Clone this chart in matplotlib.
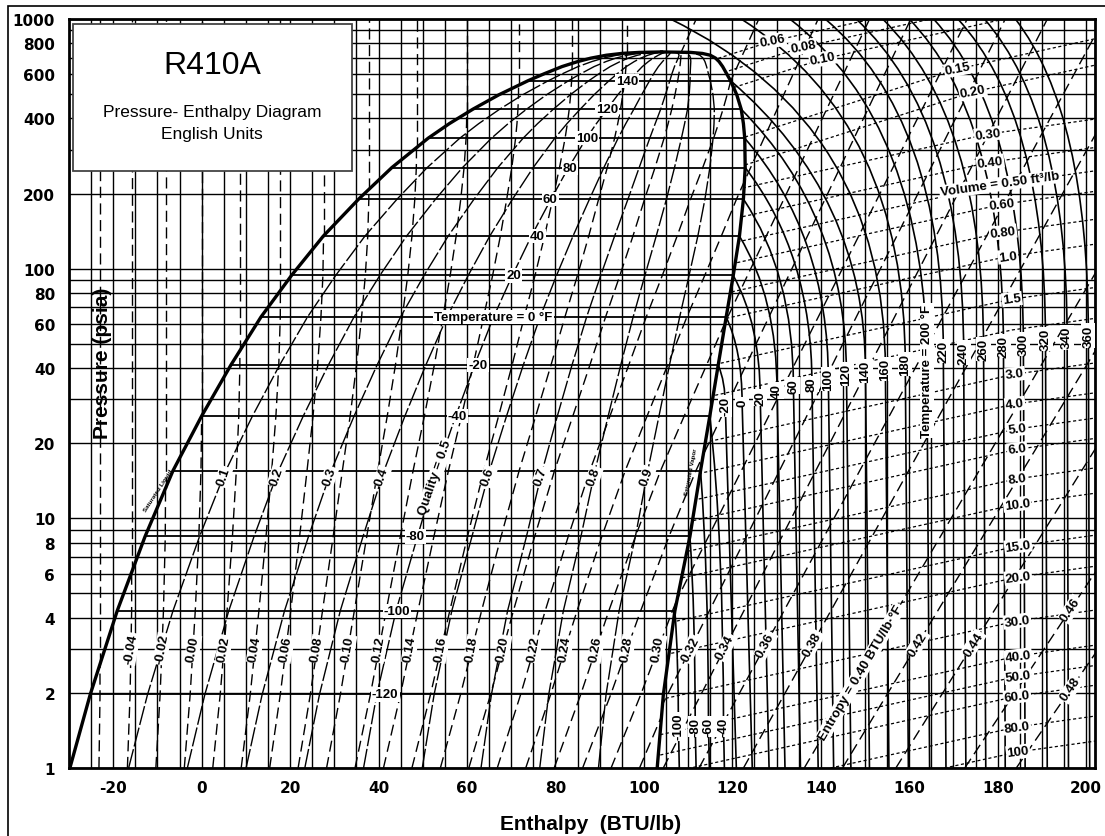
import numpy as np
import matplotlib.pyplot as plt
from matplotlib.path import Path
from matplotlib.patches import PathPatch, Rectangle
from matplotlib.ticker import FixedLocator, FixedFormatter, NullLocator

# saturation table: temperature (F), pressure (psia), sat. liquid / sat. vapour enthalpy (BTU/lb)
sat_t = [-138, -120, -100, -80, -60, -40, -20, 0, 20, 40, 60, 80, 100, 110, 120, 130,
         140, 145, 150, 153, 155, 156.5, 157.5, 158, 158.3]
sat_p = [1.0, 1.97, 4.26, 8.46, 15.5, 25.7, 41.1, 64.0, 93.9, 135, 190, 254, 333, 381, 435, 497,
         566, 604, 645, 675, 697, 716, 728, 735, 738]
sat_hf = [-29.8, -25.2, -19.1, -12.8, -6.5, 0.0, 6.6, 13.4, 20.3, 27.5, 35.5, 43.0, 51.2, 56.0, 61.3, 67.2,
          73.8, 77.5, 81.5, 85.0, 88.0, 91.5, 95.0, 99.0, 104.0]
sat_hg = [103.0, 104.4, 107.0, 110.4, 112.8, 114.9, 116.8, 118.6, 120.2, 121.6, 122.5, 122.9, 122.8, 122.5, 122.0, 121.0,
          119.6, 118.7, 117.8, 117.0, 116.2, 115.0, 113.2, 110.5, 104.0]

# isotherms across the dome and where their labels sit
iso_t = [-120, -100, -80, -60, -40, -20, 0, 20, 40, 60, 80, 100, 120, 140]
iso_label_h = [41.5, 44.2, 48.3, None, 57.8, 62.5, 66.0, 70.5, 75.9, 78.8, 83.3, 87.1, 91.6, 96.2]

quality = [0.1, 0.2, 0.3, 0.4, 0.5, 0.6, 0.7, 0.8, 0.9]
quality_label_p = 14.7

# entropy lines (BTU/lb-F) in the two-phase region
ent_s = [-0.06, -0.04, -0.02, 0.00, 0.02, 0.04, 0.06, 0.08, 0.10, 0.12, 0.14, 0.16,
         0.18, 0.20, 0.22, 0.24, 0.26, 0.28, 0.30, 0.32]
ent_label_p = 3.0

# entropy lines in the superheated region: label points and steepness
sh_s = [0.20, 0.22, 0.24, 0.26, 0.28, 0.30, 0.32, 0.34, 0.36, 0.38, 0.40, 0.42, 0.44, 0.46, 0.48]
sh_s_h = [None, None, None, None, None, None, 110.5, 118.4, 127.5, 138.1, 149.0, 161.9, 174.5, 196.5, 196.5]
sh_s_p = [None, None, None, None, None, None, 3.00, 3.05, 3.11, 3.14, 2.42, 3.14, 3.14, 4.33, 2.07]
sh_s_slope = [2.2, 2.2, 2.2, 2.1, 2.1, 2.0, 2.0, 1.95, 1.85, 1.8, 1.7, 1.65, 1.6, 1.5, 1.45]

# superheated isotherms
sh_t = [-100, -80, -60, -40, -20, 0, 20, 40, 60, 80, 100, 120, 140,
        160, 180, 200, 220, 240, 260, 280, 300, 320, 340, 360]
sh_label_h = [107.8, 111.6, 114.6, 118.0, 118.4, 122.2, 126.3, 130.1, 133.8, 138.0, 141.7, 145.8, 150.1,
              154.6, 159.1, 164.0, 167.7, 172.3, 176.8, 181.3, 185.8, 190.8, 195.7, 200.5]
sh_label_p = [1.47, 1.47, 1.47, 1.47, 28.2, 29.2, 30.5, 32.4, 34.0, 34.5, 36.1, 37.8, 39.0,
              39.6, 41.5, 39.0, 46.9, 46.2, 47.6, 49.1, 49.9, 52.3, 53.1, 53.9]
sh_bottom_h = [108.0, 111.8, 114.8, 118.2, 120.9, 124.5, 128.3, 131.9, 135.4, 139.4, 142.9, 146.8, 151.0,
               155.4, 159.8, 164.6, 168.3, 172.8, 177.3, 181.7, 186.2, 191.2, 196.0, 200.8]
# enthalpy where the supercritical isotherms meet P = 1000
sc_t = [160, 180, 200, 220, 240, 260, 280, 300, 320, 340, 360]
sc_top_h = [106, 122, 133, 141, 148, 154, 160, 165.5, 171, 177, 184]

# specific volume lines (ft3/lb), label points
vol_v = ['0.06', '0.08', '0.10', '0.15', '0.20', '0.30', '0.40', '0.50', '0.60', '0.80', '1.0', '1.5', '2.0',
         '3.0', '4.0', '5.0', '6.0', '8.0', '10.0', '15.0', '20.0', '30.0', '40.0', '50.0', '60.0', '80.0', '100']
vol_h = [129.0, 136.0, 140.5, 171.0, 174.4, 177.8, 178.3, 180.5, 181.0, 181.2, 182.3, 183.2, 183.2,
         183.9, 183.9, 184.4, 184.4, 184.4, 184.4, 184.6, 184.6, 184.4, 184.6, 184.6, 184.4, 184.4, 184.6]
vol_p = [816, 772, 692, 631, 510, 346, 267, 218, 181, 140, 112, 75.5, 56.8,
         37.8, 28.7, 22.8, 18.9, 14.4, 11.4, 7.75, 5.82, 3.88, 2.81, 2.33, 1.94, 1.46, 1.16]

x_ticks = [-20, 0, 20, 40, 60, 80, 100, 120, 140, 160, 180, 200]
y_ticks = [1, 2, 4, 6, 8, 10, 20, 40, 60, 80, 100, 200, 400, 600, 800, 1000]
grid_p = [1, 2, 3, 4, 5, 6, 7, 8, 9, 10, 20, 30, 40, 50, 60, 70, 80, 90,
          100, 200, 300, 400, 500, 600, 700, 800, 900, 1000]

p = np.array(sat_p)
hf = np.array(sat_hf)
hg = np.array(sat_hg)
logp = np.log10(p)
tr = np.array(sat_t) + 459.67

fig = plt.figure(figsize=(11.05, 8.37), dpi=100)
ax = fig.add_axes([69 / 1105, 68 / 837, 1026 / 1105, 749 / 837])
ax.set_xlim(-30, 202)
ax.set_yscale('log')
ax.set_ylim(1, 1000)

box = ax.get_position()
kx = box.width * 1105 / 232.0   # px per BTU/lb
ky = box.height * 837 / 3.0     # px per decade

lab_font = dict(family='Liberation Sans', fontweight='bold', fontsize=9.5)
white = dict(boxstyle='square,pad=0.08', fc='white', ec='none')

# grid
for h in range(-25, 201, 5):
    ax.axvline(h, color='k', lw=1.0, zorder=1)
for g in grid_p:
    ax.axhline(g, color='k', lw=1.0, zorder=1)

# regions used for clipping
dome_path = Path(np.column_stack([np.r_[hf, hg[::-1]], np.r_[p, p[::-1]]]))
sh_path = Path(np.column_stack([np.r_[hg, [104, 215, 215, 103]], np.r_[p, [1100, 1100, 0.9, 0.9]]]))


def first_cross(d):
    for i in range(1, len(d)):
        if d[i] < 0 <= d[i - 1]:
            f = d[i - 1] / (d[i - 1] - d[i])
            return i, f
    return None


def sh_line(h0, p0, m, **kw):
    k = m * kx / ky
    hs = [h0 - np.log10(p0) / k, h0 + (3 - np.log10(p0)) / k]
    ln, = ax.plot(hs, [1, 1000], **kw)
    ln.set_clip_path(sh_path, ax.transData)


ent_style = dict(color='k', lw=1.0, ls=(0, (8, 4)), zorder=2)

# saturated liquid entropy, zero at -40 F
sf = np.r_[0.0, np.cumsum(np.diff(hf) / ((tr[1:] + tr[:-1]) / 2))]
sf -= sf[sat_t.index(-40)]

exits = {}
for s in ent_s:
    hl = hf + tr * (s - sf)
    ln, = ax.plot(hl, p, **ent_style)
    ln.set_clip_path(dome_path, ax.transData)
    lc = first_cross(hl - hf)
    vc = first_cross(hg - hl)
    if lc and (vc is None or lc[0] <= vc[0]):
        i, f = lc
        lp = logp[i - 1] + f * (logp[i] - logp[i - 1])
        hi = hf[i - 1] + f * (hf[i] - hf[i - 1])
        ax.plot([hi, hi], [10 ** lp, 1000], **ent_style)
    elif vc:
        i, f = vc
        lp = logp[i - 1] + f * (logp[i] - logp[i - 1])
        exits[s] = (hg[i - 1] + f * (hg[i] - hg[i - 1]), 10 ** lp)
    if -0.05 < s < 0.31:
        hx = np.interp(np.log10(ent_label_p), logp, hl)
        ax.text(hx, ent_label_p, f'{s:.2f}', rotation=80, ha='center', va='center',
                bbox=white, zorder=6, **lab_font)

for s, h0, p0, m in zip(sh_s, sh_s_h, sh_s_p, sh_s_slope):
    if h0 is None:
        if s not in exits:
            continue
        h0, p0 = exits[s]
        sh_line(h0, p0, m, **ent_style)
        continue
    sh_line(h0, p0, m, **ent_style)
    txt = 'Entropy = 0.40 BTU/lb·°F' if s == 0.40 else f'{s:.2f}'
    ax.text(h0, p0, txt, rotation=np.degrees(np.arctan(m)), ha='center', va='center',
            bbox=white, zorder=6, rotation_mode='anchor', **lab_font)

# quality lines
for q in quality:
    hq = hf + q * (hg - hf)
    ax.plot(hq, p, color='k', lw=1.0, ls=(0, (14, 2)), zorder=2)
    hx = np.interp(np.log10(quality_label_p), logp, hq)
    txt = 'Quality = 0.5' if q == 0.5 else f'{q:.1f}'
    ax.text(hx, quality_label_p, txt, rotation=71, ha='center', va='center',
            bbox=white, zorder=6, rotation_mode='anchor', **lab_font)

# isotherms inside the dome
for t, lh in zip(iso_t, iso_label_h):
    i = sat_t.index(t)
    ax.plot([hf[i], hg[i]], [p[i], p[i]], color='k', lw=1.3, zorder=3)
    if lh is not None:
        txt = 'Temperature = 0 °F' if t == 0 else str(t)
        ax.text(lh, p[i], txt, ha='center', va='center', bbox=white, zorder=6, **lab_font)

# isotherms in the superheated / supercritical region
for t, lh, lp, bh in zip(sh_t, sh_label_h, sh_label_p, sh_bottom_h):
    if t in sat_t:
        i = sat_t.index(t)
        start = (hg[i], p[i])
        f = 0.4
    else:
        start = (sc_top_h[sc_t.index(t)], 1000.0)
        f = 0.3
    cy = 10 ** (np.log10(start[1]) + f * (np.log10(lp) - np.log10(start[1])))
    path = Path([start, (lh, cy), (lh, lp), (bh, 1.0)],
                [Path.MOVETO, Path.CURVE3, Path.CURVE3, Path.LINETO])
    ax.add_patch(PathPatch(path, fill=False, ec='k', lw=1.2, zorder=3))
    txt = 'Temperature = 200 °F' if t == 200 else str(t)
    ax.text(lh, lp, txt, rotation=90, ha='center', va='center', bbox=white, zorder=6, **lab_font)

# specific volume lines
for v, h0, p0 in zip(vol_v, vol_h, vol_p):
    ml, mr = (0.32, 0.22) if float(v) <= 0.2 else (0.22, 0.14)
    kl, kr = ml * kx / ky, mr * kx / ky
    hs = [95.0, h0, 206.0]
    ps = [p0 / 10 ** (kl * (h0 - 95)), p0, p0 * 10 ** (kr * (206 - h0))]
    ln, = ax.plot(hs, ps, color='k', lw=0.9, ls=(0, (2.5, 2)), zorder=2)
    ln.set_clip_path(sh_path, ax.transData)
    if v == '2.0':
        continue
    txt = 'Volume = 0.50 ft³/lb' if v == '0.50' else v
    ax.text(h0, p0, txt, rotation=np.degrees(np.arctan(mr)) * (0.9 if v != '0.50' else 1.0),
            ha='center', va='center', bbox=white, zorder=6, rotation_mode='anchor', **lab_font)

# saturation dome
ax.plot(hf, p, color='k', lw=2.4, zorder=4, solid_joinstyle='round')
ax.plot(hg, p, color='k', lw=2.4, zorder=4, solid_joinstyle='round')
ax.text(-9.8, 13.0, 'Saturated Liquid', rotation=57, ha='center', va='center',
        fontsize=4.5, family='Liberation Sans', fontweight='bold', zorder=6)
ax.text(110.6, 15.4, 'Saturated Vapor', rotation=79, ha='center', va='center',
        fontsize=4.5, family='Liberation Sans', fontweight='bold', zorder=6)

ax.text(-22.5, 42.3, 'Pressure (psia)', rotation=90, ha='center', va='center',
        fontsize=15, family='Liberation Sans', fontweight='bold', zorder=6)
fig.text(591 / 1105, 1 - 825 / 837, 'Enthalpy  (BTU/lb)', ha='center', va='center',
         fontsize=15, family='Liberation Sans', fontweight='bold')

# axes, ticks
for sp in ax.spines.values():
    sp.set_linewidth(2.0)
ax.set_xticks(x_ticks)
ax.set_xticklabels([str(v) for v in x_ticks])
ax.yaxis.set_major_locator(FixedLocator(y_ticks))
ax.yaxis.set_major_formatter(FixedFormatter([str(v) for v in y_ticks]))
ax.yaxis.set_minor_locator(NullLocator())
ax.tick_params(axis='both', length=0, labelsize=11)
ax.tick_params(axis='y', pad=10)
ax.tick_params(axis='x', pad=9)
for lab in ax.get_xticklabels() + ax.get_yticklabels():
    lab.set_fontweight('bold')

# title box
fig.add_artist(Rectangle((73 / 1105, 1 - 172 / 837), 279 / 1105, 147 / 837, transform=fig.transFigure,
                         fc='white', ec='#444444', lw=1.3, zorder=10))
fig.text(212 / 1105, 1 - 66 / 837, 'R410A', ha='center', va='center', fontsize=23,
         family='Liberation Sans', zorder=11)
fig.text(212 / 1105, 1 - 112 / 837, 'Pressure- Enthalpy Diagram', ha='center', va='center',
         fontsize=12.5, family='Liberation Sans', zorder=11)
fig.text(212 / 1105, 1 - 134 / 837, 'English Units', ha='center', va='center',
         fontsize=12.5, family='Liberation Sans', zorder=11)

# outer frame
fig.add_artist(Rectangle((8 / 1105, -0.1), 1.5, 1.1 - 7 / 837, transform=fig.transFigure,
                         fill=False, ec='k', lw=1.2, zorder=12))

fig.savefig('out.png', dpi=100)
